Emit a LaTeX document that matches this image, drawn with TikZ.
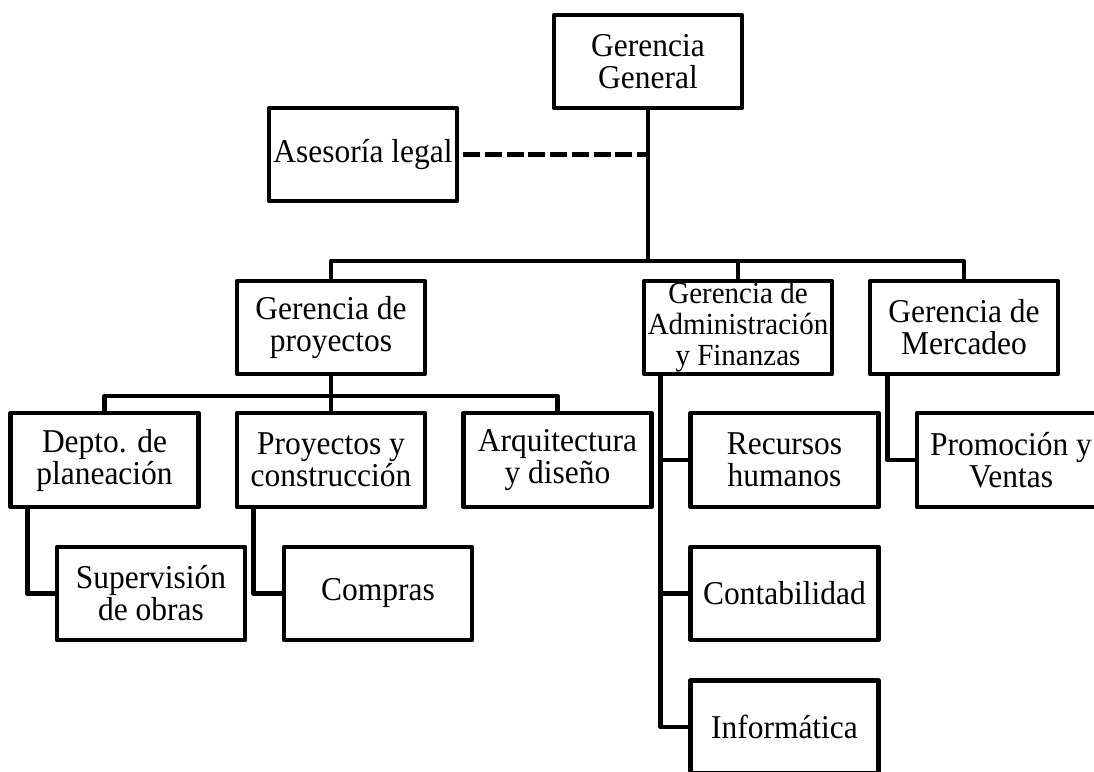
\documentclass[tikz,border=0pt]{standalone}
\usepackage{fontspec}
\setmainfont{Liberation Serif}[FakeStretch=0.945]
\begin{document}
\begin{tikzpicture}[x=1pt,y=-1pt,
  box/.style={draw, line width=4.6pt, line join=round, inner sep=0pt,
    minimum width=188pt, minimum height=93pt, align=center,
    font=\fontsize{33.3}{32}\selectfont},
  smallbox/.style={box, font=\fontsize{30.7}{31}\selectfont},
  link/.style={line width=4.6pt, line join=round},
  dashlink/.style={line width=5pt, dash pattern=on 17pt off 4.7pt, dash phase=17.7pt}]
\useasboundingbox (0,0) rectangle (1094,771);
\fill[white] (0,0) rectangle (1094,771);

% nodes
\node[box] (gg) at (648,61.5) {Gerencia\\General};
\node[box] (ase) at (363,154.5) {Asesoría legal};
\node[box] (gp) at (331,327.5) {Gerencia de\\proyectos};
\node[smallbox] (ga) at (738,327.5) {Gerencia de\\Administración\\y Finanzas};
\node[box] (gm) at (964,327.5) {Gerencia de\\Mercadeo};
\node[box, minimum height=94pt] (dp) at (104.5,460) {Depto. de\\planeación};
\node[box, minimum height=94pt] (pc) at (331,460) {Proyectos y\\construcción};
\node[box, minimum height=94pt] (ad) at (557.5,460) {Arquitectura\\y diseño};
\node[box, minimum height=94pt] (rh) at (784.5,460) {Recursos\\humanos};
\node[box, minimum height=94pt] (pv) at (1011,460) {Promoción y\\Ventas};
\node[box] (so) at (151,593.5) {Supervisión\\de obras};
\node[box] (co) at (378,593.5) {Compras};
\node[box] (ct) at (784.5,593.5) {Contabilidad};
\node[box] (inf) at (784.5,727) {Informática};

% coordinates
\coordinate (bus) at (648,261);
\coordinate (sub) at (331,396);
\coordinate (gax) at ([xshift=19pt]ga.south west);
\coordinate (gmx) at ([xshift=20pt]gm.south west);
\coordinate (dpx) at ([xshift=19pt]dp.south west);
\coordinate (pcx) at ([xshift=19pt]pc.south west);

% main hierarchy
\draw[link] (gg.south) -- (bus);
\draw[link] (gp.north) |- (bus) -| (gm.north);
\draw[link] (bus -| ga.north) -- (ga.north);
\draw[dashlink] (ase.east) -- (ase.east -| gg.south);

% projects
\draw[link] (gp.south) -- (sub);
\draw[link] (dp.north) |- (sub) -| (ad.north);
\draw[link] (sub) -- (pc.north);
\draw[link] (dpx) |- (so.west);
\draw[link] (pcx) |- (co.west);

% administration
\draw[link] (gax) |- (inf.west);
\draw[link] (rh.west) -- (rh.west -| gax);
\draw[link] (ct.west) -- (ct.west -| gax);

% marketing
\draw[link] (gmx) |- (pv.west);
\end{tikzpicture}
\end{document}
